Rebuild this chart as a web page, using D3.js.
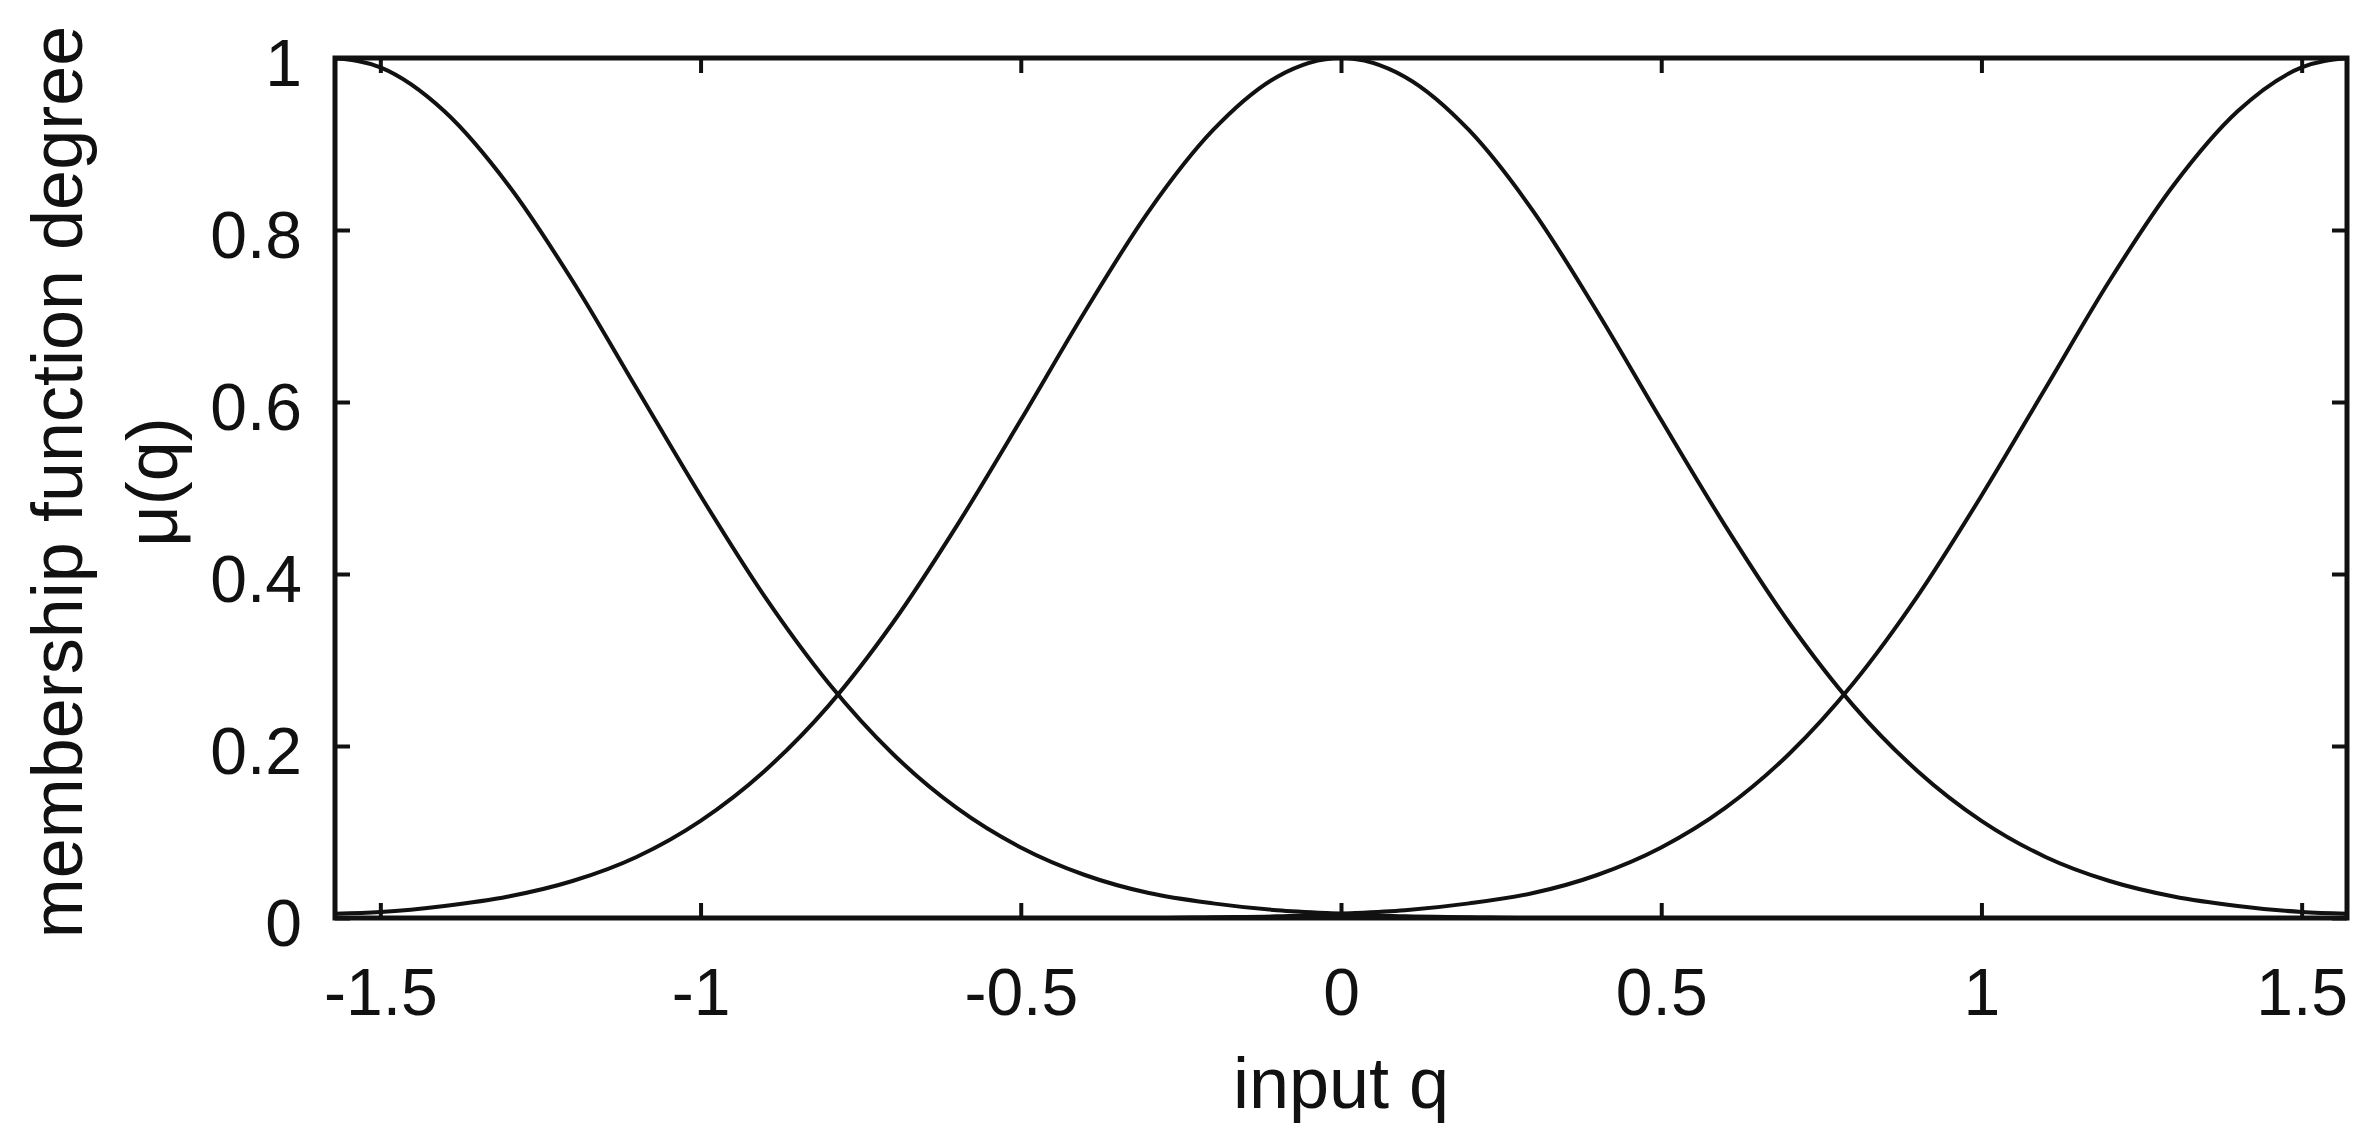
<!DOCTYPE html>
<html>
<head>
<meta charset="utf-8">
<script src="https://cdn.jsdelivr.net/npm/d3@7"></script>
<style>
  html, body { margin: 0; padding: 0; background: #fff; }
  svg { display: block; }
</style>
</head>
<body>
<svg id="chart" width="2372" height="1143"></svg>
<script>
// ---- data ----
const inputQ = [-1.5708, -1.5, -1.4, -1.3, -1.2, -1.1, -1.0, -0.9, -0.8, -0.7, -0.6, -0.5, -0.4, -0.3, -0.2, -0.1,
                0, 0.1, 0.2, 0.3, 0.4, 0.5, 0.6, 0.7, 0.8, 0.9, 1.0, 1.1, 1.2, 1.3, 1.4, 1.5, 1.5708];
const muNegative = [1.000, 0.989, 0.938, 0.852, 0.741, 0.616, 0.491, 0.374, 0.273, 0.191, 0.128, 0.082, 0.050, 0.029, 0.017, 0.009,
                    0.005, 0.002, 0.001, 0.000, 0.000, 0.000, 0.000, 0.000, 0.000, 0.000, 0.000, 0.000, 0.000, 0.000, 0.000, 0.000, 0.000];
const muZero = [0.005, 0.007, 0.014, 0.025, 0.043, 0.071, 0.113, 0.171, 0.247, 0.343, 0.456, 0.579, 0.705, 0.822, 0.916, 0.978,
                1.000, 0.978, 0.916, 0.822, 0.705, 0.579, 0.456, 0.343, 0.247, 0.171, 0.113, 0.071, 0.043, 0.025, 0.014, 0.007, 0.005];
const muPositive = [0.000, 0.000, 0.000, 0.000, 0.000, 0.000, 0.000, 0.000, 0.000, 0.000, 0.000, 0.000, 0.000, 0.000, 0.001, 0.002,
                    0.005, 0.009, 0.017, 0.029, 0.050, 0.082, 0.128, 0.191, 0.273, 0.374, 0.491, 0.616, 0.741, 0.852, 0.938, 0.989, 1.000];
const xTickValues = [-1.5, -1, -0.5, 0, 0.5, 1, 1.5];
const xTickLabels = ["-1.5", "-1", "-0.5", "0", "0.5", "1", "1.5"];
const yTickValues = [0, 0.2, 0.4, 0.6, 0.8, 1];
const yTickLabels = ["0", "0.2", "0.4", "0.6", "0.8", "1"];
const xDomain = [-1.5708, 1.5708];
const yDomain = [0, 1];
const xLabel = "input q";
const yLabelLines = ["membership function degree", "\u03bc(q)"];

// ---- layout ----
const svg = d3.select("#chart");
const margin = { left: 335, top: 58, right: 2372 - 2347, bottom: 1143 - 918 };
const W = 2372 - margin.left - margin.right;
const H = 1143 - margin.top - margin.bottom;
const font = "'Liberation Sans', Arial, Helvetica, sans-serif";
const tickFont = 66, labelFont = 72, tickLen = 15;

const x = d3.scaleLinear().domain(xDomain).range([0, W]);
const y = d3.scaleLinear().domain(yDomain).range([H, 0]);

const g = svg.append("g").attr("transform", `translate(${margin.left},${margin.top})`);

// clip
svg.append("defs").append("clipPath").attr("id", "plotclip")
  .append("rect").attr("x", -2).attr("y", -2).attr("width", W + 4).attr("height", H + 4);

// curves
const line = d3.line().x((d, i) => x(inputQ[i])).y(d => y(d)).curve(d3.curveMonotoneX);
const series = [muNegative, muZero, muPositive];
g.append("g").attr("clip-path", "url(#plotclip)")
  .selectAll("path").data(series).join("path")
  .attr("d", line)
  .attr("fill", "none")
  .attr("stroke", "#111")
  .attr("stroke-width", 4)
  .attr("stroke-linejoin", "round");

// axes
function styleAxis(sel) {
  sel.select(".domain").remove();
  sel.selectAll(".tick line").attr("stroke", "#111").attr("stroke-width", 4);
  sel.selectAll(".tick text").attr("font-family", font).attr("font-size", tickFont).attr("fill", "#111");
}
const xb = g.append("g").attr("transform", `translate(0,${H})`)
  .call(d3.axisBottom(x).tickValues(xTickValues).tickSizeInner(-tickLen).tickSizeOuter(0).tickPadding(50)
        .tickFormat((d, i) => xTickLabels[i]));
styleAxis(xb);
const xt = g.append("g")
  .call(d3.axisTop(x).tickValues(xTickValues).tickSizeInner(-tickLen).tickSizeOuter(0).tickFormat(""));
styleAxis(xt);
const yl = g.append("g")
  .call(d3.axisLeft(y).tickValues(yTickValues).tickSizeInner(-tickLen).tickSizeOuter(0).tickPadding(33)
        .tickFormat((d, i) => yTickLabels[i]));
styleAxis(yl);
yl.selectAll(".tick text").attr("dy", "0.42em");
const yr = g.append("g").attr("transform", `translate(${W},0)`)
  .call(d3.axisRight(y).tickValues(yTickValues).tickSizeInner(-tickLen).tickSizeOuter(0).tickFormat(""));
styleAxis(yr);

// box
g.append("rect").attr("x", 0).attr("y", 0).attr("width", W).attr("height", H)
  .attr("fill", "none").attr("stroke", "#111").attr("stroke-width", 5);

// labels
svg.append("text")
  .attr("x", margin.left + W / 2).attr("y", 1108)
  .attr("text-anchor", "middle")
  .attr("font-family", font).attr("font-size", labelFont).attr("fill", "#111")
  .text(xLabel);

const yc = margin.top + H / 2 - 6;
svg.append("text")
  .attr("transform", `translate(82,${yc}) rotate(-90)`)
  .attr("text-anchor", "middle")
  .attr("font-family", font).attr("font-size", labelFont).attr("fill", "#111")
  .text(yLabelLines[0]);
svg.append("text")
  .attr("transform", `translate(177,${yc}) rotate(-90)`)
  .attr("text-anchor", "middle")
  .attr("font-family", font).attr("font-size", labelFont).attr("fill", "#111")
  .text(yLabelLines[1]);
</script>
</body>
</html>
